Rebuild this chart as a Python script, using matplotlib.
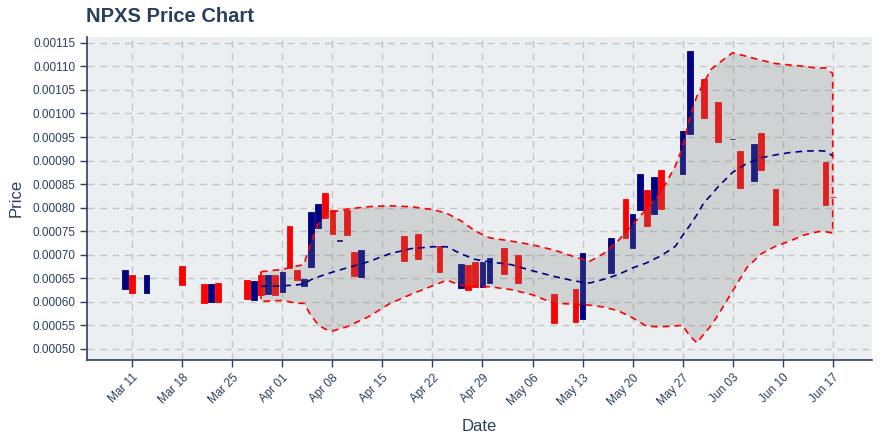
import matplotlib
matplotlib.use('Agg')
import matplotlib.pyplot as plt
import matplotlib.dates as mdates
from matplotlib.ticker import FormatStrFormatter, MultipleLocator
import numpy as np
import pandas as pd

plt.rcParams['font.family'] = ['Liberation Sans', 'DejaVu Sans']

# candles (price in units of 1e-5)
dates = ['2019-03-10', '2019-03-11', '2019-03-13', '2019-03-18', '2019-03-21', '2019-03-22',
         '2019-03-23', '2019-03-27', '2019-03-28', '2019-03-29', '2019-03-30', '2019-03-31',
         '2019-04-01', '2019-04-02', '2019-04-03', '2019-04-04', '2019-04-05', '2019-04-06',
         '2019-04-07', '2019-04-08', '2019-04-09', '2019-04-10', '2019-04-11', '2019-04-12',
         '2019-04-18', '2019-04-20', '2019-04-23', '2019-04-26', '2019-04-27', '2019-04-28',
         '2019-04-29', '2019-04-30', '2019-05-02', '2019-05-04', '2019-05-09', '2019-05-12',
         '2019-05-13', '2019-05-17', '2019-05-19', '2019-05-20', '2019-05-21', '2019-05-22',
         '2019-05-23', '2019-05-24', '2019-05-27', '2019-05-28', '2019-05-30', '2019-06-01',
         '2019-06-03', '2019-06-04', '2019-06-06', '2019-06-07', '2019-06-09', '2019-06-16',
         '2019-06-17']
opens = [62.8, 65.7, 61.9, 67.7, 63.8, 60.0,
         64.0, 64.7, 60.4, 65.7, 61.7, 65.7,
         62.1, 76.2, 66.8, 63.4, 67.4, 75.7,
         83.2, 79.4, 73.0, 79.6, 70.6, 65.3,
         74.0, 74.5, 71.9, 63.0, 67.9, 68.5,
         63.2, 64.0, 71.5, 70.0, 61.7, 62.8,
         56.4, 66.2, 81.9, 71.5, 79.4, 83.8,
         78.7, 87.9, 87.2, 95.7, 107.4, 102.5,
         94.5, 92.1, 85.7, 95.9, 84.0, 89.8,
         82.3]
closes = [66.7, 61.9, 65.7, 63.6, 59.8, 63.8,
          60.0, 60.6, 64.5, 61.5, 65.7, 61.5,
          66.4, 67.2, 64.7, 64.9, 79.1, 80.8,
          77.9, 74.5, 73.1, 74.3, 65.5, 71.1,
          68.7, 69.2, 66.4, 68.1, 62.6, 63.2,
          68.5, 69.4, 66.0, 64.0, 55.5, 55.8,
          70.4, 73.6, 73.6, 78.7, 87.2, 76.2,
          86.6, 79.8, 96.2, 113.2, 99.1, 94.0,
          94.6, 84.2, 93.6, 87.9, 76.4, 80.6,
          82.2]

# bollinger band (units of 1e-5)
band_dates = ['2019-03-29', '2019-04-01', '2019-04-03', '2019-04-04', '2019-04-05', '2019-04-06',
              '2019-04-07', '2019-04-08', '2019-04-10', '2019-04-13', '2019-04-16', '2019-04-19',
              '2019-04-22', '2019-04-24', '2019-04-26', '2019-04-28', '2019-04-30', '2019-05-03',
              '2019-05-06', '2019-05-09', '2019-05-12', '2019-05-14', '2019-05-16', '2019-05-18',
              '2019-05-20', '2019-05-22', '2019-05-24', '2019-05-26', '2019-05-27', '2019-05-28',
              '2019-05-29', '2019-05-30', '2019-05-31', '2019-06-01', '2019-06-03', '2019-06-05',
              '2019-06-07', '2019-06-09', '2019-06-11', '2019-06-13', '2019-06-15', '2019-06-16',
              '2019-06-17']
upper = [66.4, 66.9, 67.6, 67.9, 72.6, 76.5,
         78.3, 79.1, 79.7, 80.2, 80.4, 80.2,
         79.6, 78.8, 77.2, 75.0, 73.6, 72.9,
         72.1, 71.0, 69.5, 68.6, 70.3, 73.0,
         76.4, 79.8, 83.3, 88.9, 92.8, 99.1,
         103.7, 106.6, 109.4, 110.6, 112.9, 112.1,
         111.3, 110.6, 110.3, 110.0, 109.6, 109.7,
         108.5]
middle = [63.3, 63.4, 63.6, 63.8, 64.7, 65.3,
          65.8, 66.3, 67.2, 68.5, 70.2, 71.3,
          71.7, 71.7, 70.2, 69.0, 68.5, 67.9,
          66.6, 65.4, 64.4, 64.0, 64.8, 65.8,
          67.2, 68.3, 69.8, 71.8, 74.1, 76.2,
          78.5, 81.1, 82.7, 84.5, 87.5, 89.4,
          90.6, 91.2, 91.7, 92.0, 92.1, 92.0,
          91.0]
lower = [60.1, 60.3, 59.7, 59.7, 57.1, 55.2,
         54.2, 53.8, 54.7, 56.8, 59.6, 61.6,
         63.4, 64.6, 63.5, 63.3, 63.2, 62.6,
         61.5, 59.7, 59.5, 59.3, 58.9, 58.1,
         56.6, 54.8, 54.7, 54.9, 55.0, 52.8,
         51.3, 53.2, 55.0, 57.3, 62.3, 67.3,
         70.2, 71.8, 72.9, 74.2, 74.9, 74.9,
         74.6]

scale = 1e-5
d = mdates.date2num(pd.to_datetime(dates))
o = np.array(opens) * scale
c = np.array(closes) * scale
bd = mdates.date2num(pd.to_datetime(band_dates))
up = np.array(upper) * scale
mid = np.array(middle) * scale
lo = np.array(lower) * scale

txt = '#2a3f5f'
fig = plt.figure(figsize=(8.8, 4.4), dpi=100)
fig.patch.set_facecolor('white')
ax = fig.add_axes([0.0989, 0.182, 0.892, 0.735])
ax.set_facecolor('#eceff1')

# candles
cols = np.where(c >= o, '#000080', '#ff0000')
ax.bar(d, c - o, bottom=o, width=0.8, color=cols, edgecolor=cols, linewidth=0.6, zorder=2)

# band polygon: upper forward, lower backward
px = np.concatenate([bd, bd[::-1], bd[:1]])
py = np.concatenate([up, lo[::-1], up[:1]])
ax.fill(px, py, color=(0.5, 0.5, 0.5, 0.25), linewidth=0, zorder=3)
ax.plot(px, py, color='#ff0000', linestyle=(0, (4, 3)), linewidth=1.2, zorder=4)
ax.plot(bd, mid, color='#000080', linestyle=(0, (4, 3)), linewidth=1.2, zorder=4)

ax.set_xlim(mdates.date2num(pd.Timestamp('2019-03-04 16:00')),
            mdates.date2num(pd.Timestamp('2019-06-22 12:00')))
ax.set_ylim(0.0004767, 0.0011634)

ax.xaxis.set_major_locator(mdates.WeekdayLocator(byweekday=mdates.MO))
ax.xaxis.set_major_formatter(mdates.DateFormatter('%b %d'))
ax.yaxis.set_major_locator(MultipleLocator(0.00005))
ax.yaxis.set_major_formatter(FormatStrFormatter('%.5f'))

ax.grid(True, color='#c4c4c4', linestyle=(0, (5, 4)), linewidth=1, zorder=0)
ax.set_axisbelow(True)

for s in ['top', 'right']:
    ax.spines[s].set_visible(False)
for s in ['left', 'bottom']:
    ax.spines[s].set_color(txt)
    ax.spines[s].set_linewidth(1.2)

ax.tick_params(axis='both', colors=txt, labelsize=8.5, length=5, width=1, direction='out')
plt.setp(ax.get_xticklabels(), rotation=45, ha='right', rotation_mode='anchor')

ax.set_xlabel('Date', fontsize=12, color=txt, labelpad=8)
ax.set_ylabel('Price', fontsize=12, color=txt, labelpad=6)
fig.text(0.098, 0.963, 'NPXS Price Chart', fontsize=14.5, fontweight='bold', color=txt, va='center')

fig.savefig('out.png', dpi=100)
